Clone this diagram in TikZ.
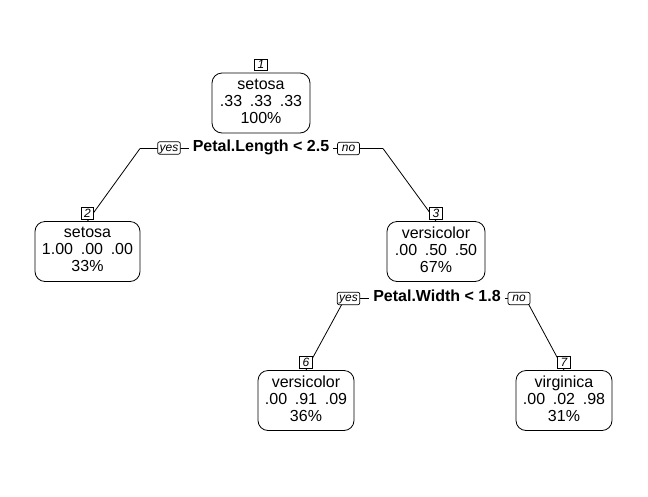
\documentclass[tikz,border=0pt]{standalone}
\usepackage{fontspec}
\setmainfont{Liberation Sans}
\usetikzlibrary{backgrounds}
\newcommand\grpgap{\hspace{7.7pt}}
\newcommand\strutdn{\rule[-4pt]{0pt}{4pt}}
\begin{document}
\begin{tikzpicture}[x=1pt,y=1pt,
  leaf/.style={draw, line width=0.8pt, rounded corners=10pt, fill=white, align=center,
    minimum height=60pt, inner xsep=2pt, inner ysep=2pt,
    font=\fontsize{16}{17}\selectfont},
  numlab/.style={draw, line width=0.7pt, fill=white, font=\fontsize{12}{14}\selectfont\itshape,
    inner xsep=3pt, inner ysep=1pt, text height=8.6pt, text depth=1pt, anchor=south},
  yn/.style={draw, line width=0.7pt, fill=white, rounded corners=2pt,
    font=\fontsize{12}{14}\selectfont\itshape, inner xsep=2pt, inner ysep=1pt,
    text height=8.4pt, text depth=2pt, minimum width=22pt},
  splitlab/.style={fill=white, font=\fontsize{16}{18}\selectfont\bfseries,
    inner xsep=4pt, inner ysep=1pt, anchor=base},
  edge/.style={line width=0.8pt}]
\useasboundingbox (0,0) rectangle (648,-496);

% leaf / internal boxes
\node[leaf, minimum width=98pt]  (n1) at (261,-103)   {setosa\\.33\grpgap.33\grpgap.33\\100\%\strutdn};
\node[leaf, minimum width=105pt] (n2) at (87.5,-251.5) {setosa\\1.00\grpgap.00\grpgap.00\\33\%\strutdn};
\node[leaf, minimum width=98pt]  (n3) at (436,-251.5)  {versicolor\\.00\grpgap.50\grpgap.50\\67\%\strutdn};
\node[leaf, minimum width=96pt]  (n6) at (306,-400.5)  {versicolor\\.00\grpgap.91\grpgap.09\\36\%\strutdn};
\node[leaf, minimum width=96pt]  (n7) at (564,-400.5)  {virginica\\.00\grpgap.02\grpgap.98\\31\%\strutdn};

% split labels
\node[splitlab] (s1) at (261,-151.5) {Petal.Length < 2.5};
\node[splitlab] (s3) at (437,-301.5) {Petal.Width < 1.8};
\node[yn] (y1)  at (169,-148)    {yes};
\node[yn] (no1) at (348.5,-148.5) {no};
\node[yn] (y3)  at (348.5,-298.5) {yes};
\node[yn] (no3) at (519,-298.5)   {no};

% elbows
\coordinate (e1L) at (140,-148.5);
\coordinate (e1R) at (383,-148.5);
\coordinate (e3L) at (345,-298.5);
\coordinate (e3R) at (525.5,-298.5);

% node number labels
\node[numlab] (l1) at ([yshift=1.5pt]n1.north) {1};
\node[numlab] (l2) at ([yshift=1.5pt]n2.north) {2};
\node[numlab] (l3) at ([yshift=1.5pt]n3.north) {3};
\node[numlab] (l6) at ([yshift=1.5pt]n6.north) {6};
\node[numlab] (l7) at ([yshift=1.5pt]n7.north) {7};

\begin{scope}[on background layer]
  \draw[edge] (e1L) -- (e1R);
  \draw[edge] (e1L) -- (n2.north);
  \draw[edge] (e1R) -- (n3.north);
  \draw[edge] (e3L) -- (e3R);
  \draw[edge] (e3L) -- (n6.north);
  \draw[edge] (e3R) -- (n7.north);
\end{scope}
\end{tikzpicture}
\end{document}
